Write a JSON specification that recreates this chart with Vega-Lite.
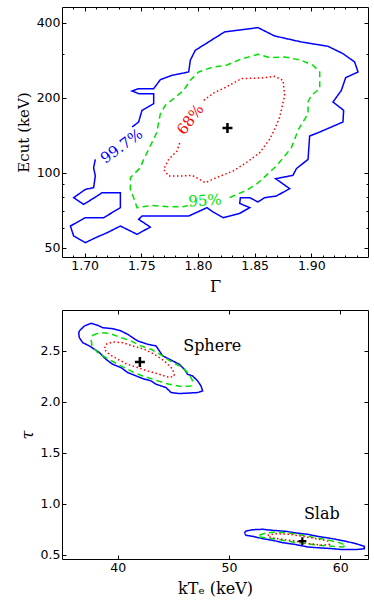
{
 "$schema": "https://vega.github.io/schema/vega-lite/v6.json",
 "padding": {"left": 15, "top": 6, "right": 0, "bottom": 0},
 "bounds": "flush",
 "spacing": 53,
 "config": {
  "view": {"stroke": "black", "strokeWidth": 1},
  "axis": {"domain": false, "grid": false, "labelFont": "DejaVu Sans", "labelFontSize": 12.5, "labelColor": "black", "tickColor": "black", "tickWidth": 1, "titleFont": "DejaVu Serif", "titleFontWeight": "normal", "titleColor": "black", "titleFontSize": 16, "labelFlush": false, "labelOverlap": false}
 },
 "datasets": {
  "top": [
   {"c":"99.7%","g":1.7418,"e":152.5},{"c":"99.7%","g":1.7476,"e":159.7},{"c":"99.7%","g":1.7506,"e":177.9},{"c":"99.7%","g":1.7609,"e":189.2},{"c":"99.7%","g":1.7609,"e":207.5},{"c":"99.7%","g":1.7476,"e":207.5},{"c":"99.7%","g":1.7418,"e":212.7},{"c":"99.7%","g":1.7476,"e":217.3},{"c":"99.7%","g":1.7609,"e":217.3},{"c":"99.7%","g":1.7668,"e":236.2},{"c":"99.7%","g":1.7771,"e":245.8},{"c":"99.7%","g":1.7918,"e":253.5},{"c":"99.7%","g":1.7932,"e":282.4},{"c":"99.7%","g":1.7976,"e":309.8},{"c":"99.7%","g":1.8094,"e":334.5},{"c":"99.7%","g":1.8144,"e":346.1},{"c":"99.7%","g":1.8235,"e":366.9},{"c":"99.7%","g":1.8529,"e":381.9},{"c":"99.7%","g":1.8676,"e":353.6},{"c":"99.7%","g":1.8912,"e":334.5},{"c":"99.7%","g":1.9147,"e":321.4},{"c":"99.7%","g":1.9279,"e":300.3},{"c":"99.7%","g":1.9382,"e":278.1},{"c":"99.7%","g":1.9412,"e":253.5},{"c":"99.7%","g":1.9303,"e":240.6},{"c":"99.7%","g":1.9265,"e":214.0},{"c":"99.7%","g":1.9191,"e":192.1},{"c":"99.7%","g":1.9285,"e":177.9},{"c":"99.7%","g":1.9279,"e":159.7},{"c":"99.7%","g":1.9074,"e":145.6},{"c":"99.7%","g":1.8985,"e":140.3},{"c":"99.7%","g":1.8971,"e":113.1},{"c":"99.7%","g":1.8868,"e":103.8},{"c":"99.7%","g":1.8838,"e":97.6},{"c":"99.7%","g":1.8685,"e":94.6},{"c":"99.7%","g":1.8809,"e":86.3},{"c":"99.7%","g":1.8691,"e":80.6},{"c":"99.7%","g":1.8588,"e":79.4},{"c":"99.7%","g":1.8529,"e":76.3},{"c":"99.7%","g":1.8456,"e":79.4},{"c":"99.7%","g":1.8374,"e":79.4},{"c":"99.7%","g":1.8368,"e":75.3},{"c":"99.7%","g":1.8456,"e":72.4},{"c":"99.7%","g":1.8368,"e":68.7},{"c":"99.7%","g":1.8221,"e":66.0},{"c":"99.7%","g":1.8132,"e":69.6},{"c":"99.7%","g":1.8079,"e":72.4},{"c":"99.7%","g":1.7918,"e":67.0},{"c":"99.7%","g":1.7506,"e":67.0},{"c":"99.7%","g":1.7476,"e":65.0},{"c":"99.7%","g":1.7579,"e":60.5},{"c":"99.7%","g":1.7462,"e":56.6},{"c":"99.7%","g":1.7315,"e":61.1},{"c":"99.7%","g":1.7197,"e":57.4},{"c":"99.7%","g":1.7094,"e":54.8},{"c":"99.7%","g":1.7006,"e":52.4},{"c":"99.7%","g":1.6903,"e":55.7},{"c":"99.7%","g":1.6874,"e":61.1},{"c":"99.7%","g":1.7006,"e":66.0},{"c":"99.7%","g":1.7168,"e":66.0},{"c":"99.7%","g":1.7315,"e":72.4},{"c":"99.7%","g":1.7315,"e":83.1},{"c":"99.7%","g":1.7153,"e":83.1},{"c":"99.7%","g":1.7109,"e":80.6},{"c":"99.7%","g":1.6991,"e":74.6},{"c":"99.7%","g":1.6903,"e":79.4},{"c":"99.7%","g":1.7006,"e":85.7},{"c":"99.7%","g":1.7079,"e":87.1},{"c":"99.7%","g":1.7094,"e":97.0},{"c":"99.7%","g":1.7079,"e":104.7},{"c":"99.7%","g":1.7094,"e":113.1},
   {"c":"95%","g":1.8279,"e":79.4},{"c":"95%","g":1.8412,"e":84.4},{"c":"95%","g":1.8515,"e":89.8},{"c":"95%","g":1.8603,"e":97.6},{"c":"95%","g":1.8691,"e":106.4},{"c":"95%","g":1.8765,"e":116.7},{"c":"95%","g":1.8824,"e":126.0},{"c":"95%","g":1.8853,"e":136.1},{"c":"95%","g":1.8882,"e":147.9},{"c":"95%","g":1.8926,"e":159.7},{"c":"95%","g":1.8971,"e":172.5},{"c":"95%","g":1.8971,"e":192.1},{"c":"95%","g":1.9000,"e":204.3},{"c":"95%","g":1.9074,"e":217.3},{"c":"95%","g":1.9074,"e":253.5},{"c":"95%","g":1.9015,"e":269.7},{"c":"95%","g":1.8912,"e":282.4},{"c":"95%","g":1.8765,"e":291.2},{"c":"95%","g":1.8632,"e":289.5},{"c":"95%","g":1.8529,"e":298.5},{"c":"95%","g":1.8368,"e":284.1},{"c":"95%","g":1.8250,"e":269.7},{"c":"95%","g":1.8132,"e":265.5},{"c":"95%","g":1.8006,"e":253.5},{"c":"95%","g":1.7932,"e":234.7},{"c":"95%","g":1.7874,"e":214.0},{"c":"95%","g":1.7785,"e":198.2},{"c":"95%","g":1.7712,"e":186.3},{"c":"95%","g":1.7668,"e":172.5},{"c":"95%","g":1.7653,"e":159.7},{"c":"95%","g":1.7638,"e":145.6},{"c":"95%","g":1.7579,"e":128.0},{"c":"95%","g":1.7521,"e":113.1},{"c":"95%","g":1.7491,"e":104.7},{"c":"95%","g":1.7403,"e":95.5},{"c":"95%","g":1.7403,"e":85.7},{"c":"95%","g":1.7432,"e":79.4},{"c":"95%","g":1.7462,"e":72.4},{"c":"95%","g":1.7594,"e":73.9},{"c":"95%","g":1.7741,"e":73.0},{"c":"95%","g":1.7859,"e":73.0},{"c":"95%","g":1.7909,"e":73.7},
   {"c":"68%","g":1.8050,"e":195.1},{"c":"68%","g":1.8144,"e":209.5},{"c":"68%","g":1.8250,"e":220.7},{"c":"68%","g":1.8382,"e":238.4},{"c":"68%","g":1.8559,"e":239.9},{"c":"68%","g":1.8676,"e":243.6},{"c":"68%","g":1.8750,"e":234.7},{"c":"68%","g":1.8765,"e":204.3},{"c":"68%","g":1.8721,"e":167.3},{"c":"68%","g":1.8676,"e":149.3},{"c":"68%","g":1.8632,"e":136.1},{"c":"68%","g":1.8544,"e":120.3},{"c":"68%","g":1.8426,"e":109.7},{"c":"68%","g":1.8309,"e":101.5},{"c":"68%","g":1.8162,"e":95.5},{"c":"68%","g":1.8065,"e":91.2},{"c":"68%","g":1.7947,"e":97.6},{"c":"68%","g":1.7859,"e":97.0},{"c":"68%","g":1.7741,"e":97.0},{"c":"68%","g":1.7697,"e":103.1},{"c":"68%","g":1.7741,"e":113.1},{"c":"68%","g":1.7815,"e":122.2},{"c":"68%","g":1.7844,"e":134.0}
  ],
  "bot": [
   {"c":"99.7%","s":"sphere","k":36.56,"t":2.695},{"c":"99.7%","s":"sphere","k":37.01,"t":2.743},{"c":"99.7%","s":"sphere","k":37.61,"t":2.770},{"c":"99.7%","s":"sphere","k":38.21,"t":2.750},{"c":"99.7%","s":"sphere","k":38.65,"t":2.727},{"c":"99.7%","s":"sphere","k":39.55,"t":2.717},{"c":"99.7%","s":"sphere","k":40.30,"t":2.695},{"c":"99.7%","s":"sphere","k":40.90,"t":2.662},{"c":"99.7%","s":"sphere","k":41.35,"t":2.629},{"c":"99.7%","s":"sphere","k":41.80,"t":2.597},{"c":"99.7%","s":"sphere","k":42.70,"t":2.564},{"c":"99.7%","s":"sphere","k":43.45,"t":2.548},{"c":"99.7%","s":"sphere","k":43.75,"t":2.499},{"c":"99.7%","s":"sphere","k":44.05,"t":2.450},{"c":"99.7%","s":"sphere","k":44.95,"t":2.401},{"c":"99.7%","s":"sphere","k":45.55,"t":2.368},{"c":"99.7%","s":"sphere","k":45.99,"t":2.319},{"c":"99.7%","s":"sphere","k":46.29,"t":2.270},{"c":"99.7%","s":"sphere","k":46.74,"t":2.254},{"c":"99.7%","s":"sphere","k":47.19,"t":2.205},{"c":"99.7%","s":"sphere","k":47.49,"t":2.156},{"c":"99.7%","s":"sphere","k":47.64,"t":2.107},{"c":"99.7%","s":"sphere","k":47.19,"t":2.091},{"c":"99.7%","s":"sphere","k":45.55,"t":2.081},{"c":"99.7%","s":"sphere","k":44.80,"t":2.091},{"c":"99.7%","s":"sphere","k":44.35,"t":2.140},{"c":"99.7%","s":"sphere","k":43.45,"t":2.173},{"c":"99.7%","s":"sphere","k":43.00,"t":2.205},{"c":"99.7%","s":"sphere","k":42.25,"t":2.228},{"c":"99.7%","s":"sphere","k":41.65,"t":2.254},{"c":"99.7%","s":"sphere","k":40.90,"t":2.287},{"c":"99.7%","s":"sphere","k":40.30,"t":2.336},{"c":"99.7%","s":"sphere","k":39.55,"t":2.368},{"c":"99.7%","s":"sphere","k":38.95,"t":2.417},{"c":"99.7%","s":"sphere","k":38.36,"t":2.483},{"c":"99.7%","s":"sphere","k":37.46,"t":2.548},{"c":"99.7%","s":"sphere","k":36.86,"t":2.580},{"c":"99.7%","s":"sphere","k":36.56,"t":2.629},{"c":"99.7%","s":"sphere","k":36.50,"t":2.672},{"c":"99.7%","s":"sphere","k":36.56,"t":2.695},
   {"c":"95%","s":"sphere","k":37.76,"t":2.652},{"c":"95%","s":"sphere","k":38.36,"t":2.678},{"c":"95%","s":"sphere","k":39.25,"t":2.672},{"c":"95%","s":"sphere","k":40.30,"t":2.629},{"c":"95%","s":"sphere","k":41.20,"t":2.597},{"c":"95%","s":"sphere","k":42.10,"t":2.548},{"c":"95%","s":"sphere","k":43.00,"t":2.515},{"c":"95%","s":"sphere","k":44.05,"t":2.450},{"c":"95%","s":"sphere","k":44.95,"t":2.385},{"c":"95%","s":"sphere","k":45.85,"t":2.336},{"c":"95%","s":"sphere","k":46.44,"t":2.270},{"c":"95%","s":"sphere","k":46.74,"t":2.205},{"c":"95%","s":"sphere","k":46.59,"t":2.156},{"c":"95%","s":"sphere","k":45.70,"t":2.150},{"c":"95%","s":"sphere","k":44.35,"t":2.179},{"c":"95%","s":"sphere","k":43.15,"t":2.222},{"c":"95%","s":"sphere","k":42.25,"t":2.254},{"c":"95%","s":"sphere","k":41.50,"t":2.287},{"c":"95%","s":"sphere","k":40.60,"t":2.336},{"c":"95%","s":"sphere","k":39.85,"t":2.378},{"c":"95%","s":"sphere","k":38.95,"t":2.434},{"c":"95%","s":"sphere","k":38.21,"t":2.483},{"c":"95%","s":"sphere","k":37.70,"t":2.548},{"c":"95%","s":"sphere","k":37.61,"t":2.613},{"c":"95%","s":"sphere","k":37.76,"t":2.652},
   {"c":"68%","s":"sphere","k":38.95,"t":2.564},{"c":"68%","s":"sphere","k":39.55,"t":2.587},{"c":"68%","s":"sphere","k":40.45,"t":2.580},{"c":"68%","s":"sphere","k":41.35,"t":2.548},{"c":"68%","s":"sphere","k":42.40,"t":2.515},{"c":"68%","s":"sphere","k":43.30,"t":2.466},{"c":"68%","s":"sphere","k":44.20,"t":2.401},{"c":"68%","s":"sphere","k":44.95,"t":2.319},{"c":"68%","s":"sphere","k":45.10,"t":2.254},{"c":"68%","s":"sphere","k":44.65,"t":2.238},{"c":"68%","s":"sphere","k":43.75,"t":2.270},{"c":"68%","s":"sphere","k":42.70,"t":2.303},{"c":"68%","s":"sphere","k":41.80,"t":2.336},{"c":"68%","s":"sphere","k":40.90,"t":2.368},{"c":"68%","s":"sphere","k":40.00,"t":2.417},{"c":"68%","s":"sphere","k":39.25,"t":2.466},{"c":"68%","s":"sphere","k":38.80,"t":2.515},{"c":"68%","s":"sphere","k":38.95,"t":2.564},
   {"c":"99.7%","s":"slab","k":51.39,"t":0.715},{"c":"99.7%","s":"slab","k":51.54,"t":0.734},{"c":"99.7%","s":"slab","k":52.14,"t":0.747},{"c":"99.7%","s":"slab","k":53.04,"t":0.751},{"c":"99.7%","s":"slab","k":53.93,"t":0.741},{"c":"99.7%","s":"slab","k":55.13,"t":0.731},{"c":"99.7%","s":"slab","k":56.03,"t":0.715},{"c":"99.7%","s":"slab","k":57.08,"t":0.702},{"c":"99.7%","s":"slab","k":57.98,"t":0.682},{"c":"99.7%","s":"slab","k":59.33,"t":0.659},{"c":"99.7%","s":"slab","k":60.52,"t":0.633},{"c":"99.7%","s":"slab","k":61.42,"t":0.610},{"c":"99.7%","s":"slab","k":62.17,"t":0.584},{"c":"99.7%","s":"slab","k":62.17,"t":0.561},{"c":"99.7%","s":"slab","k":61.42,"t":0.552},{"c":"99.7%","s":"slab","k":60.22,"t":0.552},{"c":"99.7%","s":"slab","k":59.33,"t":0.561},{"c":"99.7%","s":"slab","k":58.28,"t":0.568},{"c":"99.7%","s":"slab","k":57.08,"t":0.578},{"c":"99.7%","s":"slab","k":55.88,"t":0.604},{"c":"99.7%","s":"slab","k":54.83,"t":0.620},{"c":"99.7%","s":"slab","k":53.93,"t":0.643},{"c":"99.7%","s":"slab","k":53.04,"t":0.659},{"c":"99.7%","s":"slab","k":52.14,"t":0.682},{"c":"99.7%","s":"slab","k":51.54,"t":0.692},{"c":"99.7%","s":"slab","k":51.39,"t":0.715},
   {"c":"95%","s":"slab","k":52.74,"t":0.692},{"c":"95%","s":"slab","k":53.33,"t":0.715},{"c":"95%","s":"slab","k":54.23,"t":0.725},{"c":"95%","s":"slab","k":55.43,"t":0.715},{"c":"95%","s":"slab","k":56.63,"t":0.692},{"c":"95%","s":"slab","k":57.83,"t":0.669},{"c":"95%","s":"slab","k":59.03,"t":0.643},{"c":"95%","s":"slab","k":59.93,"t":0.620},{"c":"95%","s":"slab","k":60.52,"t":0.594},{"c":"95%","s":"slab","k":60.22,"t":0.578},{"c":"95%","s":"slab","k":59.33,"t":0.584},{"c":"95%","s":"slab","k":58.13,"t":0.594},{"c":"95%","s":"slab","k":56.93,"t":0.610},{"c":"95%","s":"slab","k":55.73,"t":0.627},{"c":"95%","s":"slab","k":54.53,"t":0.650},{"c":"95%","s":"slab","k":53.48,"t":0.666},{"c":"95%","s":"slab","k":52.80,"t":0.676},{"c":"95%","s":"slab","k":52.74,"t":0.692},
   {"c":"68%","s":"slab","k":53.48,"t":0.692},{"c":"68%","s":"slab","k":54.23,"t":0.708},{"c":"68%","s":"slab","k":55.43,"t":0.702},{"c":"68%","s":"slab","k":56.63,"t":0.682},{"c":"68%","s":"slab","k":57.83,"t":0.659},{"c":"68%","s":"slab","k":58.88,"t":0.636},{"c":"68%","s":"slab","k":59.03,"t":0.604},{"c":"68%","s":"slab","k":58.43,"t":0.594},{"c":"68%","s":"slab","k":57.23,"t":0.610},{"c":"68%","s":"slab","k":56.03,"t":0.633},{"c":"68%","s":"slab","k":54.83,"t":0.653},{"c":"68%","s":"slab","k":53.78,"t":0.669},{"c":"68%","s":"slab","k":53.48,"t":0.692}
  ]
 },
 "vconcat": [
  {
   "width": 306, "height": 250,
   "resolve": {"axis": {"x": "independent", "y": "independent"}},
   "layer": [
    {
     "data": {"name": "top"},
     "mark": {"type": "line", "strokeWidth": 1.5},
     "encoding": {
      "x": {"field": "g", "type": "quantitative", "scale": {"domain": [1.68, 1.95], "nice": false, "zero": false}, "axis": {"orient": "bottom", "values": [1.7, 1.75, 1.8, 1.85, 1.9], "format": ".2f", "tickSize": -4, "labelPadding": 6, "title": "Γ", "titlePadding": 7}},
      "y": {"field": "e", "type": "quantitative", "scale": {"type": "log", "domain": [45.9, 462], "nice": false}, "axis": {"orient": "left", "values": [50, 100, 200, 400], "format": "d", "tickSize": -4, "labelPadding": 6, "title": "Ecut (keV)", "titleFontSize": 15, "titlePadding": 5}},
      "color": {"field": "c", "type": "nominal", "scale": {"domain": ["99.7%", "95%", "68%"], "range": ["#0000ff", "#00e000", "#ff0000"]}, "legend": null},
      "strokeDash": {"field": "c", "type": "nominal", "scale": {"domain": ["99.7%", "95%", "68%"], "range": [[1, 0], [6, 4], [1.5, 2.5]]}, "legend": null},
      "order": {"value": null}
     }
    },
    {
     "data": {"name": "top"},
     "mark": {"type": "point", "opacity": 0},
     "encoding": {
      "x": {"field": "g", "type": "quantitative", "axis": {"orient": "top", "values": [1.7, 1.75, 1.8, 1.85, 1.9], "labels": false, "tickSize": -4, "title": null}},
      "y": {"field": "e", "type": "quantitative", "axis": {"orient": "right", "values": [50, 100, 200, 400], "labels": false, "tickSize": -4, "title": null}}
     }
    },
    {
     "data": {"name": "top"},
     "mark": {"type": "point", "opacity": 0},
     "encoding": {
      "x": {"field": "g", "type": "quantitative", "axis": {"orient": "bottom", "values": [1.69, 1.71, 1.72, 1.73, 1.74, 1.76, 1.77, 1.78, 1.79, 1.81, 1.82, 1.83, 1.84, 1.86, 1.87, 1.88, 1.89, 1.91, 1.92, 1.93, 1.94], "labels": false, "tickSize": -2, "title": null}},
      "y": {"field": "e", "type": "quantitative", "axis": {"orient": "left", "values": [60, 70, 80, 90, 300], "labels": false, "tickSize": -2, "title": null}}
     }
    },
    {
     "data": {"name": "top"},
     "mark": {"type": "point", "opacity": 0},
     "encoding": {
      "x": {"field": "g", "type": "quantitative", "axis": {"orient": "top", "values": [1.69, 1.71, 1.72, 1.73, 1.74, 1.76, 1.77, 1.78, 1.79, 1.81, 1.82, 1.83, 1.84, 1.86, 1.87, 1.88, 1.89, 1.91, 1.92, 1.93, 1.94], "labels": false, "tickSize": -2, "title": null}},
      "y": {"field": "e", "type": "quantitative", "axis": {"orient": "right", "values": [60, 70, 80, 90, 300], "labels": false, "tickSize": -2, "title": null}}
     }
    },
    {
     "data": {"values": [{"g": 1.826, "e": 151}]},
     "mark": {"type": "point", "shape": "M-1,0L1,0M0,-1L0,1", "size": 100, "strokeWidth": 2.5, "color": "black", "filled": false, "opacity": 1},
     "encoding": {"x": {"field": "g", "type": "quantitative", "axis": null}, "y": {"field": "e", "type": "quantitative", "axis": null}}
    },
    {
     "data": {"values": [{"g": 1.7326, "e": 128, "label": "99.7%"}]},
     "mark": {"type": "text", "angle": -36, "font": "DejaVu Serif", "fontSize": 15, "color": "#0000ff"},
     "encoding": {"x": {"field": "g", "type": "quantitative", "axis": null}, "y": {"field": "e", "type": "quantitative", "axis": null}, "text": {"field": "label"}}
    },
    {
     "data": {"values": [{"g": 1.7932, "e": 163.7, "label": "68%"}]},
     "mark": {"type": "text", "angle": -53, "font": "DejaVu Serif", "fontSize": 15, "color": "#ff0000"},
     "encoding": {"x": {"field": "g", "type": "quantitative", "axis": null}, "y": {"field": "e", "type": "quantitative", "axis": null}, "text": {"field": "label"}}
    },
    {
     "data": {"values": [{"g": 1.8062, "e": 77.4, "label": "95%"}]},
     "mark": {"type": "text", "angle": -4, "font": "DejaVu Serif", "fontSize": 15, "color": "#00e000"},
     "encoding": {"x": {"field": "g", "type": "quantitative", "axis": null}, "y": {"field": "e", "type": "quantitative", "axis": null}, "text": {"field": "label"}}
    }
   ]
  },
  {
   "width": 306, "height": 249,
   "resolve": {"axis": {"x": "independent", "y": "independent"}},
   "layer": [
    {
     "data": {"name": "bot"},
     "mark": {"type": "line", "strokeWidth": 1.5},
     "encoding": {
      "x": {"field": "k", "type": "quantitative", "scale": {"domain": [35, 62.5], "nice": false, "zero": false}, "axis": {"orient": "bottom", "values": [40, 50, 60], "format": "d", "tickSize": -4, "labelPadding": 6, "title": "kTₑ (keV)", "titlePadding": 7}},
      "y": {"field": "t", "type": "quantitative", "scale": {"domain": [0.46, 2.9], "nice": false, "zero": false}, "axis": {"orient": "left", "values": [0.5, 1.0, 1.5, 2.0, 2.5], "format": ".1f", "tickSize": -4, "labelPadding": 6, "title": "τ", "titleFontStyle": "italic", "titlePadding": 5}},
      "color": {"field": "c", "type": "nominal", "scale": {"domain": ["99.7%", "95%", "68%"], "range": ["#0000ff", "#00e000", "#ff0000"]}, "legend": null},
      "strokeDash": {"field": "c", "type": "nominal", "scale": {"domain": ["99.7%", "95%", "68%"], "range": [[1, 0], [6, 4], [1.5, 2.5]]}, "legend": null},
      "detail": {"field": "s", "type": "nominal"},
      "order": {"value": null}
     }
    },
    {
     "data": {"name": "bot"},
     "mark": {"type": "point", "opacity": 0},
     "encoding": {
      "x": {"field": "k", "type": "quantitative", "axis": {"orient": "top", "values": [40, 50, 60], "labels": false, "tickSize": -4, "title": null}},
      "y": {"field": "t", "type": "quantitative", "axis": {"orient": "right", "values": [0.5, 1.0, 1.5, 2.0, 2.5], "labels": false, "tickSize": -4, "title": null}}
     }
    },
    {
     "data": {"values": [{"k": 42.0, "t": 2.39, "s": "sphere"}]},
     "mark": {"type": "point", "shape": "M-1,0L1,0M0,-1L0,1", "size": 100, "strokeWidth": 2.5, "color": "black", "filled": false, "opacity": 1},
     "encoding": {"x": {"field": "k", "type": "quantitative", "axis": null}, "y": {"field": "t", "type": "quantitative", "axis": null}}
    },
    {
     "data": {"values": [{"k": 56.6, "t": 0.635, "s": "slab"}]},
     "mark": {"type": "point", "shape": "M-1,0L1,0M0,-1L0,1", "size": 64, "strokeWidth": 2.2, "color": "black", "filled": false, "opacity": 1},
     "encoding": {"x": {"field": "k", "type": "quantitative", "axis": null}, "y": {"field": "t", "type": "quantitative", "axis": null}}
    },
    {
     "data": {"values": [{"k": 48.5, "t": 2.55, "label": "Sphere"}, {"k": 58.35, "t": 0.905, "label": "Slab"}]},
     "mark": {"type": "text", "font": "DejaVu Serif", "fontSize": 16, "color": "black"},
     "encoding": {"x": {"field": "k", "type": "quantitative", "axis": null}, "y": {"field": "t", "type": "quantitative", "axis": null}, "text": {"field": "label"}}
    }
   ]
  }
 ]
}
